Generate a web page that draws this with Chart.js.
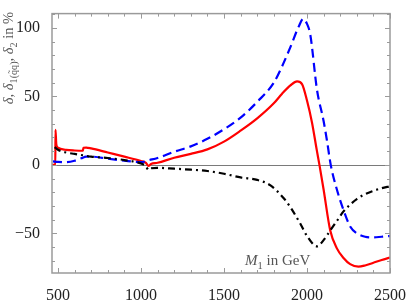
<!DOCTYPE html>
<html>
<head>
<meta charset="utf-8">
<script src="https://cdn.jsdelivr.net/npm/chart.js@4.4.1/dist/chart.umd.min.js"></script>
<style>
    html, body { margin: 0; padding: 0; background: #fff; }
    #wrap { width: 415px; height: 301px; }
</style>
</head>
<body>
<div id="wrap"><canvas id="chart"></canvas></div>
<script>
// Values (M1 in GeV vs. percent)
const redX = [464, 484, 485, 490, 500, 550, 600, 650, 653, 670, 700, 800, 900, 1000, 1030, 1045, 1060, 1100, 1200, 1300, 1400, 1500, 1600, 1700, 1800, 1850, 1900, 1940, 1970, 2000, 2030, 2060, 2075, 2100, 2140, 2180, 2220, 2260, 2310, 2350, 2400, 2450, 2500];
const redY = [0, 0, 25.5, 15, 12.5, 11, 10.5, 10.3, 12.5, 12.6, 12, 9, 6, 2.8, 1.5, -0.8, 0.6, 1.5, 5.2, 8, 11.3, 17, 25, 34, 45, 52, 58, 61, 59, 47, 31, 10, 0, -18, -48, -61, -68, -72.5, -74.4, -73.5, -71.5, -69.5, -67.8];

const blueX = [470, 500, 550, 600, 640, 670, 700, 800, 900, 1000, 1050, 1100, 1200, 1300, 1400, 1500, 1600, 1700, 1800, 1850, 1900, 1950, 1977, 2000, 2020, 2060, 2100, 2120, 2143, 2180, 2220, 2260, 2300, 2350, 2400, 2450, 2500];
const blueY = [2.5, 2.2, 2, 3, 4.8, 6, 6, 4.5, 3, 2, 3.5, 5, 9.6, 13.5, 19, 26, 34.5, 46, 60, 72, 86, 101, 106.6, 103, 95, 55, 32, 18, 0, -18, -33, -45, -50, -52.5, -53, -52.5, -52];

const blackX = [480, 500, 550, 600, 650, 700, 800, 900, 1000, 1030, 1045, 1060, 1100, 1200, 1300, 1400, 1500, 1600, 1700, 1780, 1860, 1900, 1960, 2000, 2060, 2100, 2140, 2180, 2220, 2260, 2300, 2340, 2400, 2450, 2500];
const blackY = [13, 11, 9, 8, 7, 6, 5, 3.5, 1, -1, -3.7, -2.5, -2.2, -2.8, -3.5, -4.5, -6.5, -9.2, -11, -15, -24.4, -31, -43, -52, -59.5, -55, -48, -41, -34, -29, -25, -22, -19, -17, -15.7];

const xTicks = [500, 1000, 1500, 2000, 2500];
const yTicks = [-50, 0, 50, 100];
const xMinor = [500, 600, 700, 800, 900, 1000, 1100, 1200, 1300, 1400, 1500, 1600, 1700, 1800, 1900, 2000, 2100, 2200, 2300, 2400, 2500];
const yMinor = [-70, -60, -50, -40, -30, -20, -10, 0, 10, 20, 30, 40, 50, 60, 70, 80, 90, 100, 110];

const pts = (xs, ys) => xs.map((x, i) => ({ x: x, y: ys[i] }));

const frameColor = '#9a9a9a';
const serif = "'Liberation Serif', 'DejaVu Serif', serif";

// Frame with inward ticks on all four sides, plus the zero line
const framePlugin = {
    id: 'frame',
    beforeDatasetsDraw(chart) {
        const { ctx, chartArea: a, scales } = chart;
        const y0 = scales.y.getPixelForValue(0);
        ctx.save();
        ctx.strokeStyle = '#7a7a7a';
        ctx.lineWidth = 1;
        ctx.beginPath();
        ctx.moveTo(a.left, Math.round(y0) + 0.5);
        ctx.lineTo(a.right, Math.round(y0) + 0.5);
        ctx.stroke();
        ctx.restore();
    },
    afterDatasetsDraw(chart) {
        const { ctx, chartArea: a, scales } = chart;
        ctx.save();
        ctx.strokeStyle = frameColor;
        ctx.lineWidth = 1;
        ctx.beginPath();
        xMinor.forEach(v => {
            const px = Math.round(scales.x.getPixelForValue(v)) + 0.5;
            const len = xTicks.includes(v) ? 5 : 3;
            ctx.moveTo(px, a.bottom); ctx.lineTo(px, a.bottom - len);
            ctx.moveTo(px, a.top); ctx.lineTo(px, a.top + len);
        });
        yMinor.forEach(v => {
            const py = Math.round(scales.y.getPixelForValue(v)) + 0.5;
            const len = yTicks.includes(v) ? 5 : 3;
            ctx.moveTo(a.left, py); ctx.lineTo(a.left + len, py);
            ctx.moveTo(a.right, py); ctx.lineTo(a.right - len, py);
        });
        ctx.stroke();
        ctx.lineWidth = 1.5;
        ctx.strokeRect(a.left, a.top, a.right - a.left, a.bottom - a.top);
        ctx.restore();
    }
};

// Draw text with subscript pieces: parts = [[text, isSub, italic], ...]
const drawParts = (ctx, parts, x, y, size) => {
    let cx = x;
    parts.forEach(([txt, sub, ital]) => {
        const s = sub ? size * 0.7 : size;
        ctx.font = (ital ? 'italic ' : '') + s + 'px ' + serif;
        ctx.fillText(txt, cx, sub ? y + size * 0.25 : y);
        cx += ctx.measureText(txt).width;
    });
    return cx - x;
};

const measureParts = (ctx, parts, size) => {
    let w = 0;
    parts.forEach(([txt, sub, ital]) => {
        const s = sub ? size * 0.7 : size;
        ctx.font = (ital ? 'italic ' : '') + s + 'px ' + serif;
        w += ctx.measureText(txt).width;
    });
    return w;
};

const labelsPlugin = {
    id: 'labels',
    afterDraw(chart) {
        const { ctx } = chart;
        ctx.save();
        ctx.fillStyle = '#555';
        ctx.textBaseline = 'alphabetic';
        ctx.textAlign = 'left';

        // y title, rotated
        const yParts = [['δ, δ', false, true], ['1(q̃q)', true, false], [', δ', false, true], ['2', true, false], [' in %', false, false]];
        const ySize = 14.5;
        const yw = measureParts(ctx, yParts, ySize);
        ctx.save();
        ctx.translate(13, 58);
        ctx.rotate(-Math.PI / 2);
        drawParts(ctx, yParts, -yw / 2, 0, ySize);
        ctx.restore();

        // x label inside the plot
        const xParts = [['M', false, true], ['1', true, false], [' in GeV', false, false]];
        drawParts(ctx, xParts, 245, 265, 15);
        ctx.restore();
    }
};

new Chart(document.getElementById('chart'), {
    type: 'line',
    data: {
        datasets: [
            {
                label: 'delta1',
                data: pts(blackX, blackY),
                borderColor: '#000000',
                borderWidth: 2.2,
                borderDash: [7, 4, 2, 4],
                pointRadius: 0,
                cubicInterpolationMode: 'monotone'
            },
            {
                label: 'delta2',
                data: pts(blueX, blueY),
                borderColor: '#0000ff',
                borderWidth: 2.2,
                borderDash: [9, 5],
                pointRadius: 0,
                cubicInterpolationMode: 'monotone'
            },
            {
                label: 'delta',
                data: pts(redX, redY),
                borderColor: '#ff0000',
                borderWidth: 2.2,
                pointRadius: 0,
                cubicInterpolationMode: 'monotone'
            }
        ]
    },
    options: {
        responsive: true,
        maintainAspectRatio: false,
        animation: false,
        layout: { padding: { top: 5, right: 25, left: 0, bottom: 0 } },
        plugins: {
            legend: { display: false },
            tooltip: { enabled: false }
        },
        scales: {
            x: {
                type: 'linear',
                min: 464,
                max: 2500,
                grid: { display: false },
                border: { display: false },
                afterBuildTicks: s => { s.ticks = xTicks.map(v => ({ value: v })); },
                afterFit: s => { s.height = 28; },
                ticks: {
                    color: '#222',
                    padding: 5,
                    maxRotation: 0,
                    font: { family: serif, size: 16 },
                    callback: v => String(v)
                }
            },
            y: {
                type: 'linear',
                min: -79,
                max: 110.5,
                grid: { display: false },
                border: { display: false },
                afterBuildTicks: s => { s.ticks = yTicks.map(v => ({ value: v })); },
                afterFit: s => { s.width = 52; },
                ticks: {
                    color: '#222',
                    padding: 4,
                    font: { family: serif, size: 16 },
                    callback: v => (v < 0 ? '\u2212' + Math.abs(v) : String(v))
                }
            }
        }
    },
    plugins: [framePlugin, labelsPlugin]
});
</script>
</body>
</html>
